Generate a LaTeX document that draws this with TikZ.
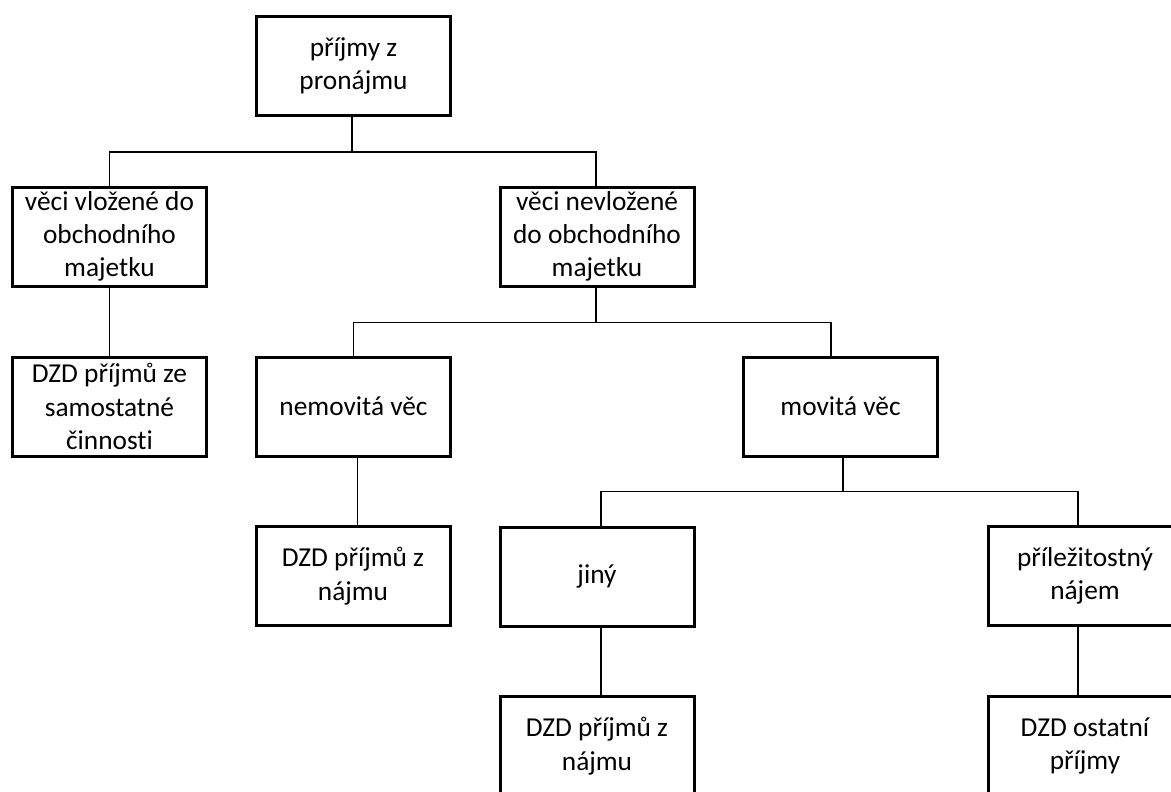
\documentclass[tikz,border=0pt]{standalone}
\usepackage{fontspec}
\setmainfont{Carlito}[Ligatures=NoCommon]
\usetikzlibrary{calc}
\begin{document}
\begin{tikzpicture}[x=0.75pt,y=-0.75pt,
  box/.style={draw, line width=2.25pt, minimum width=145.5pt, minimum height=74.25pt,
    inner sep=0pt, align=center, font=\fontsize{20.5pt}{25pt}\selectfont},
  link/.style={line width=1.4pt}]
\useasboundingbox (0,0) rectangle (1171,792);
\fill[white] (0,0) rectangle (1171,792);
\clip (0,0) rectangle (1171,792);

\node[box] (root)   at (353.5,66)   {příjmy z\\pronájmu};
\node[box] (vloz)   at (109.5,236.5) {věci vložené do\\obchodního\\majetku};
\node[box] (nevloz) at (597,236.5)  {věci nevložené\\do obchodního\\majetku};
\node[box] (samost) at (109.5,406.5) {DZD příjmů ze\\samostatné\\činnosti};
\node[box] (nemov)  at (353.5,406.5) {nemovitá věc};
\node[box] (movit)  at (840.5,406.5) {movitá věc};
\node[box] (najem)  at (353,576)    {DZD příjmů z\\nájmu};
\node[box] (jiny)   at (597,576.5)  {jiný};
\node[box] (prilez) at (1085,576)   {příležitostný\\nájem};
\node[box] (najemb) at (597,746)    {DZD příjmů z\\nájmu};
\node[box] (ostat)  at (1085,746)   {DZD ostatní\\příjmy};

% level 1
\draw[link] ($(root.south)+(-1.5,0)$) -- ++(0,35) coordinate (j1);
\draw[link] (vloz.north) |- (j1) -| ($(nevloz.north)+(-1,0)$);
\draw[link] (vloz.south) -- (samost.north);
% level 2
\draw[link] ($(nevloz.south)+(-1,0)$) -- ++(0,35) coordinate (j2);
\draw[link] (nemov.north) |- (j2) -| ($(movit.north)+(-9.5,0)$);
\draw[link] ($(nemov.south)+(4,0)$) -- ($(najem.north)+(4.5,0)$);
% level 3
\draw[link] ($(movit.south)+(2.5,0)$) -- ++(0,34) coordinate (j3);
\draw[link] ($(jiny.north)+(4,0)$) |- (j3) -| ($(prilez.north)+(-7,0)$);
\draw[link] ($(jiny.south)+(4,0)$) -- ($(najemb.north)+(4,0)$);
\draw[link] ($(prilez.south)+(-7,0)$) -- ($(ostat.north)+(-7,0)$);
\end{tikzpicture}
\end{document}
